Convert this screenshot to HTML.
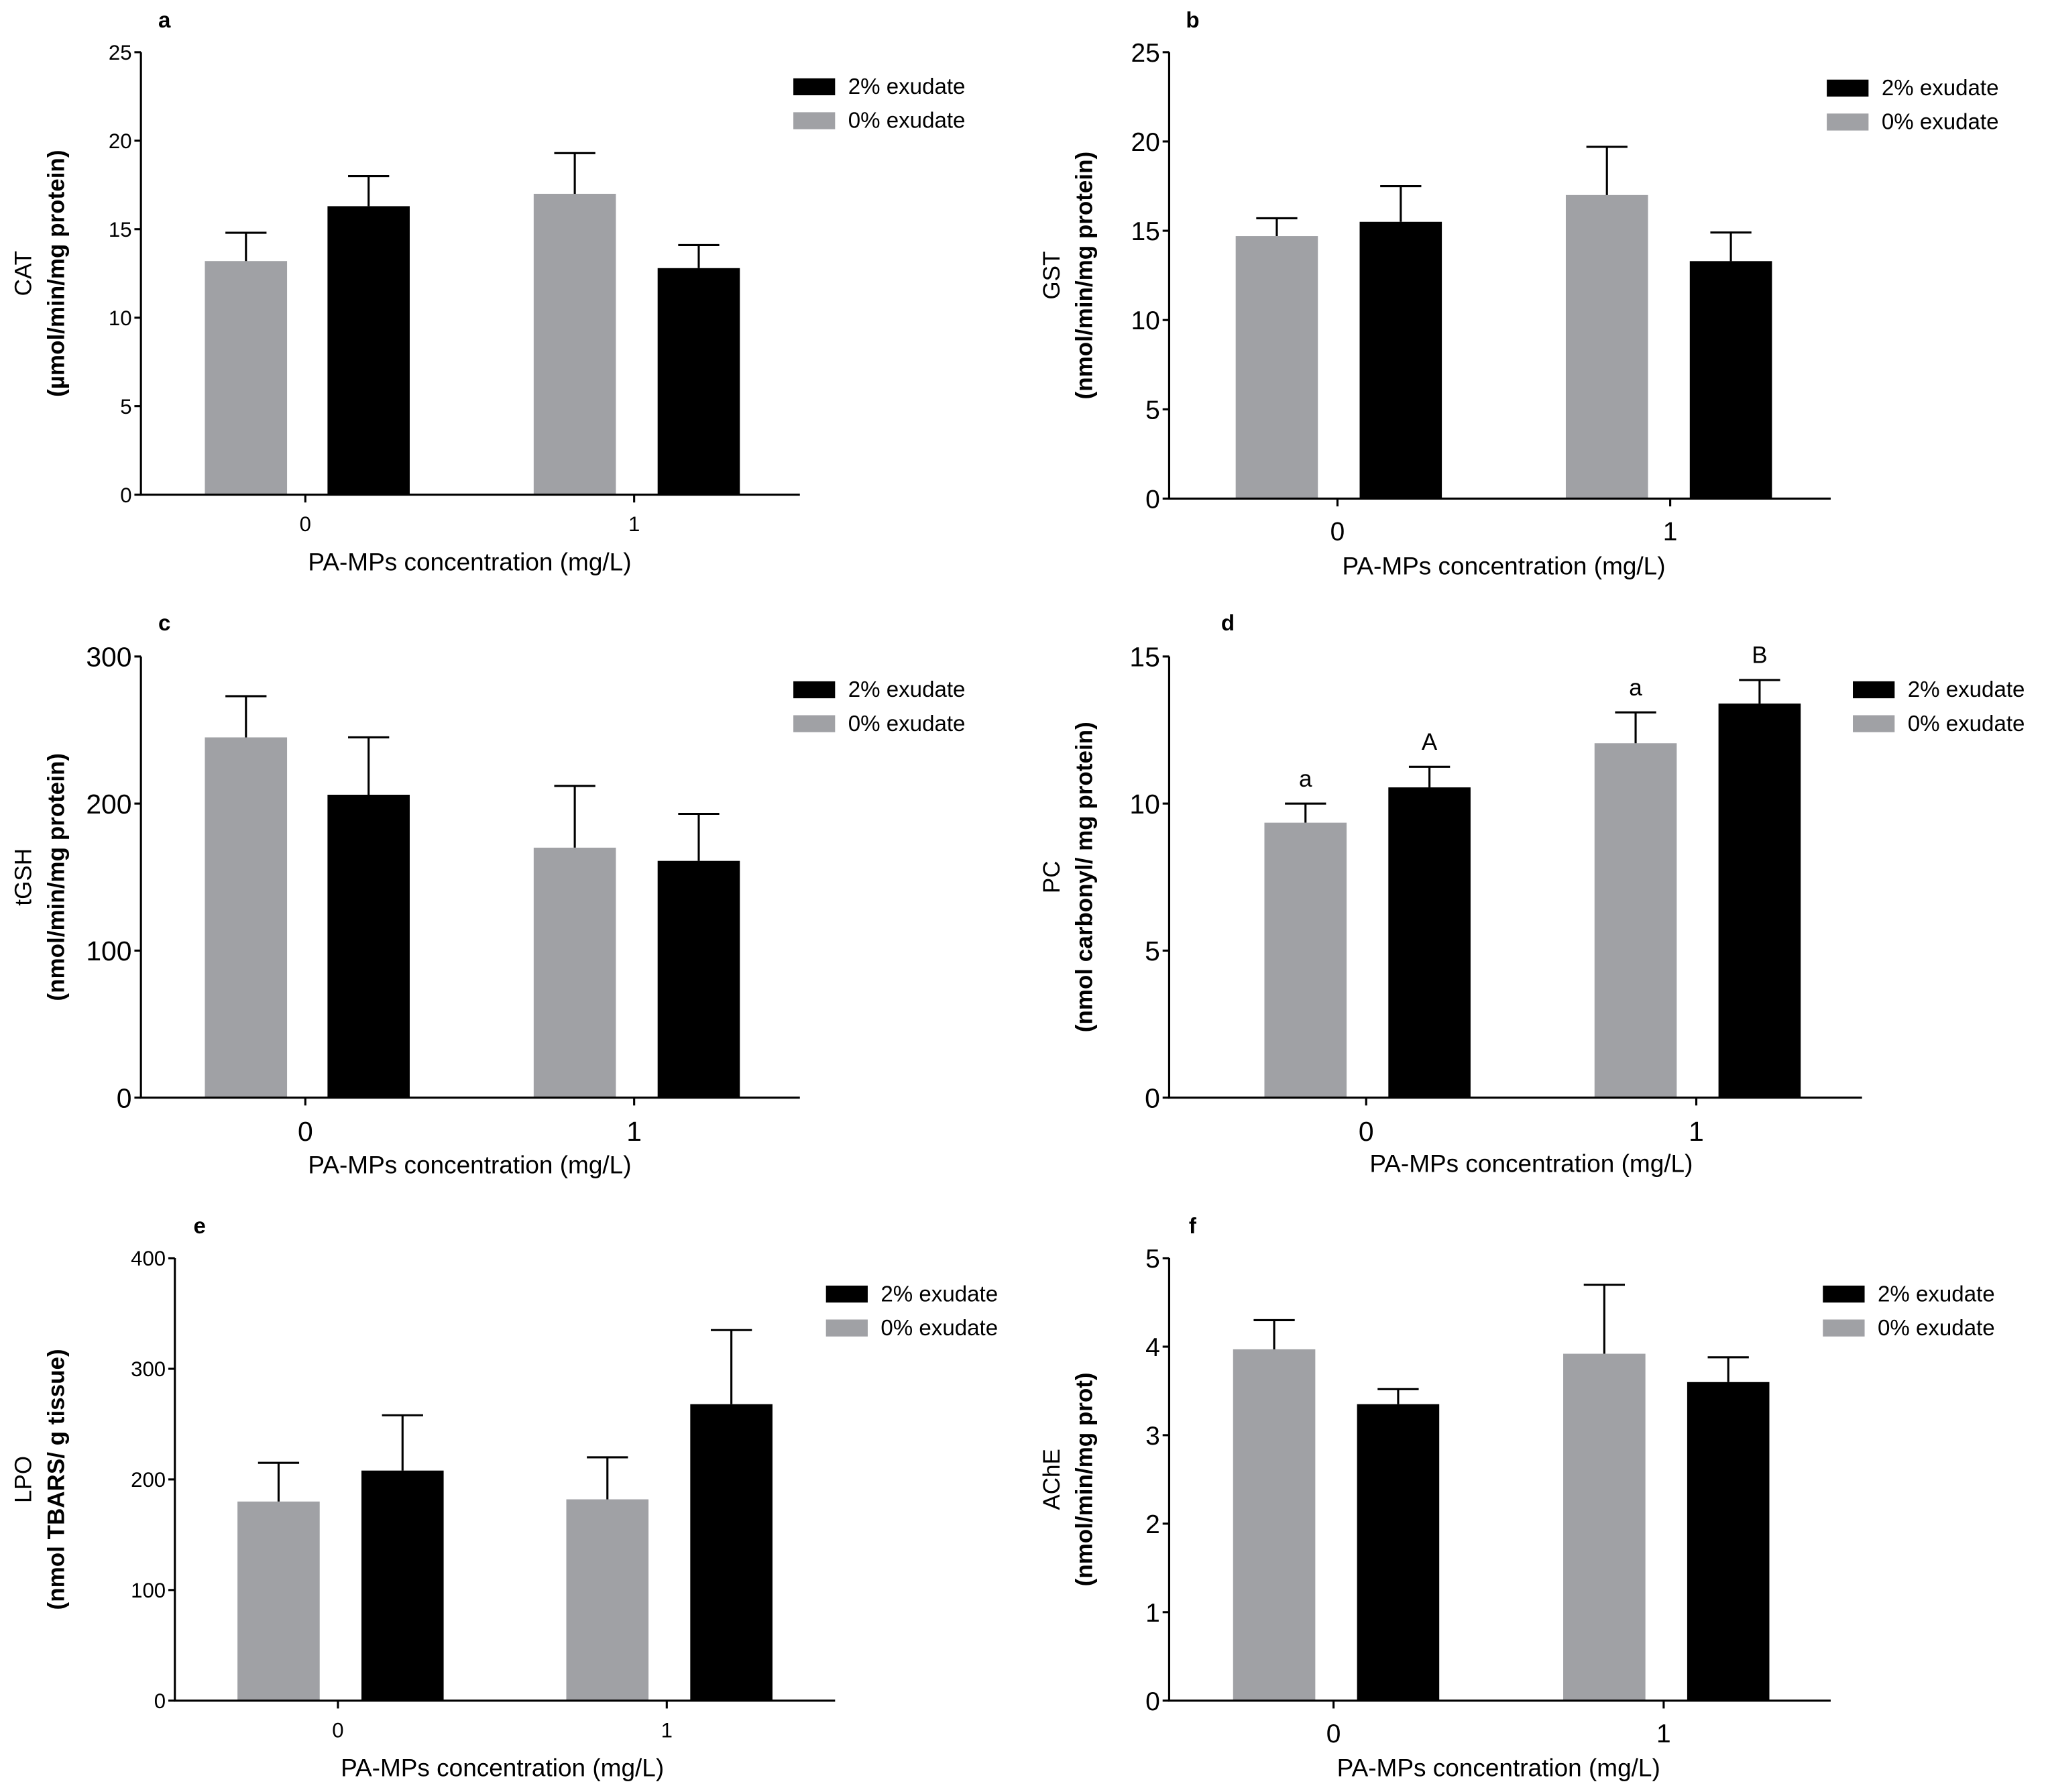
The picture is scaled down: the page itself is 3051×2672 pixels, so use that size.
<!DOCTYPE html>
<html><head><meta charset="utf-8">
<style>
html,body{margin:0;padding:0;background:#fff;}
svg{display:block;}
text{font-family:"Liberation Sans",sans-serif;fill:#000;}
</style></head>
<body>
<svg id="fig" width="3051" height="2672" viewBox="0 0 1568 1373" preserveAspectRatio="none" xmlns="http://www.w3.org/2000/svg"></svg>
<script>
// ---- data ----
const groups = ["0","1"];
const seriesNames = ["0% exudate","2% exudate"];
const aGray = [13.2, 17.0];   const aGrayErr = [1.6, 2.3];
const aBlack = [16.3, 12.8];  const aBlackErr = [1.7, 1.3];
const aTicks = [0,5,10,15,20,25];
const bGray = [14.7, 17.0];   const bGrayErr = [1.0, 2.7];
const bBlack = [15.5, 13.3];  const bBlackErr = [2.0, 1.6];
const bTicks = [0,5,10,15,20,25];
const cGray = [245, 170];     const cGrayErr = [28, 42];
const cBlack = [206, 161];    const cBlackErr = [39, 32];
const cTicks = [0,100,200,300];
const dGray = [9.35, 12.05];  const dGrayErr = [0.65, 1.05];
const dBlack = [10.55, 13.4]; const dBlackErr = [0.7, 0.8];
const dTicks = [0,5,10,15];
const dLettersGray = ["a","a"];
const dLettersBlack = ["A","B"];
const eGray = [180, 182];     const eGrayErr = [35, 38];
const eBlack = [208, 268];    const eBlackErr = [50, 67];
const eTicks = [0,100,200,300,400];
const fGray = [3.97, 3.92];   const fGrayErr = [0.33, 0.78];
const fBlack = [3.35, 3.6];   const fBlackErr = [0.17, 0.28];
const fTicks = [0,1,2,3,4,5];

const NS = "http://www.w3.org/2000/svg";
const fig = document.getElementById('fig');
function mk(tag, attrs, parent, txt){
  const e = document.createElementNS(NS, tag);
  for (const k in attrs) e.setAttribute(k, attrs[k]);
  if (txt !== undefined) e.textContent = txt;
  parent.appendChild(e);
  return e;
}
const GRAY = "#a0a1a5";

function panel(p){
  const g = mk('g', {}, fig);
  
  
  const ymax = p.ticks[p.ticks.length-1];
  const Y = v => p.y0 - (v / ymax) * (p.y0 - p.yTop);
  const pl = mk('text', {x:p.lx, y:p.ly, 'font-size':17, 'font-weight':'bold', 'text-anchor':'middle'}, g, p.id);
  
  
  const series = [[p.gray, p.grayErr, GRAY, p.grayX], [p.black, p.blackErr, "#000", p.blackX]];
  series.forEach((s, si) => {
    s[0].forEach((v, i) => {
      const x = s[3][i];
      const r = mk('rect', {x:x, y:Y(v), width:p.bw, height:p.y0 - Y(v), fill:s[2]}, g);
      
      
      const cx = x + p.bw/2, top = Y(v + s[1][i]);
      const eb = mk('path', {d:`M${cx},${Y(v)}V${top}M${cx-p.bw/4},${top}H${cx+p.bw/4}`, stroke:'#000', 'stroke-width':1.6, fill:'none'}, g);
      
      
      if (p.lettersGray) {
        const L = si ? p.lettersBlack : p.lettersGray;
        const t = mk('text', {x:cx, y:top - 13, 'font-size':18, 'text-anchor':'middle'}, g, L[i]);
        
        
      }
    });
  });
  const ax = mk('path', {d:`M${p.ax},${p.yTop}V${p.y0}H${p.axEnd}`, stroke:'#000', 'stroke-width':1.6, fill:'none'}, g);
  
  
  p.ticks.forEach(t => {
    const y = Y(t);
    const tk = mk('path', {d:`M${p.ax-5},${y}H${p.ax}`, stroke:'#000', 'stroke-width':1.6}, g);
    
    
    const tl = mk('text', {x:p.ax-7, y:y + p.fs*0.36, 'font-size':p.fs, 'text-anchor':'end'}, g, String(t));
    
    
  });
  groups.forEach((gn, i) => {
    const x = p.xt[i];
    const tk = mk('path', {d:`M${x},${p.y0}V${p.y0+6}`, stroke:'#000', 'stroke-width':1.6}, g);
    
    
    const tl = mk('text', {x:x, y:p.y0 + 12 + p.fs, 'font-size':p.fs, 'text-anchor':'middle'}, g, gn);
    
    
  });
  const xl = mk('text', {x:(p.xt[0]+p.xt[1])/2, y:p.xly, 'font-size':19, 'text-anchor':'middle'}, g, 'PA-MPs concentration (mg/L)');
  
  
  const yc = (p.y0 + p.yTop)/2;
  const y1 = mk('text', {x:0, y:0, 'font-size':18, 'text-anchor':'middle', transform:`translate(${p.ylx},${yc}) rotate(-90)`}, g, p.yl1);
  
  
  const y2 = mk('text', {x:0, y:0, 'font-size':18, 'font-weight':'bold', 'text-anchor':'middle', transform:`translate(${p.ylx+25},${yc}) rotate(-90)`}, g, p.yl2);
  
  
  [["#000", seriesNames[1]], [GRAY, seriesNames[0]]].forEach((L, i) => {
    const ly = p.legY + i*26;
    const r = mk('rect', {x:p.legX, y:ly, width:32, height:13, fill:L[0]}, g);
    
    
    const t = mk('text', {x:p.legX + 42, y:ly + 12, 'font-size':17}, g, L[1]);
    
    
  });
}

panel({id:'a', lx:126, ly:21, ax:108, axEnd:613, yTop:40, y0:379, ticks:aTicks, fs:16,
  gray:aGray, grayErr:aGrayErr, black:aBlack, blackErr:aBlackErr, grayX:[157,409], blackX:[251,504], bw:63,
  xt:[234,486], xly:437, ylx:24, yl1:'CAT', yl2:'(µmol/min/mg protein)', legX:608, legY:60});
panel({id:'b', lx:914, ly:21, ax:896, axEnd:1403, yTop:40, y0:382, ticks:bTicks, fs:20,
  gray:bGray, grayErr:bGrayErr, black:bBlack, blackErr:bBlackErr, grayX:[947,1200], blackX:[1042,1295], bw:63,
  xt:[1025,1280], xly:440, ylx:812, yl1:'GST', yl2:'(nmol/min/mg protein)', legX:1400, legY:61});
panel({id:'c', lx:126, ly:483, ax:108, axEnd:613, yTop:503, y0:841, ticks:cTicks, fs:21,
  gray:cGray, grayErr:cGrayErr, black:cBlack, blackErr:cBlackErr, grayX:[157,409], blackX:[251,504], bw:63,
  xt:[234,486], xly:899, ylx:24, yl1:'tGSH', yl2:'(nmol/min/mg protein)', legX:608, legY:522});
panel({id:'d', lx:941, ly:483, ax:896, axEnd:1427, yTop:503, y0:841, ticks:dTicks, fs:21,
  gray:dGray, grayErr:dGrayErr, black:dBlack, blackErr:dBlackErr, grayX:[969,1222], blackX:[1064,1317], bw:63,
  xt:[1047,1300], xly:898, ylx:812, yl1:'PC', yl2:'(nmol carbonyl/ mg protein)', legX:1420, legY:522,
  lettersGray:dLettersGray, lettersBlack:dLettersBlack});
panel({id:'e', lx:153, ly:945, ax:134, axEnd:640, yTop:964, y0:1303, ticks:eTicks, fs:16,
  gray:eGray, grayErr:eGrayErr, black:eBlack, blackErr:eBlackErr, grayX:[182,434], blackX:[277,529], bw:63,
  xt:[259,511], xly:1361, ylx:24, yl1:'LPO', yl2:'(nmol TBARS/ g tissue)', legX:633, legY:985});
panel({id:'f', lx:914, ly:945, ax:896, axEnd:1403, yTop:964, y0:1303, ticks:fTicks, fs:20,
  gray:fGray, grayErr:fGrayErr, black:fBlack, blackErr:fBlackErr, grayX:[945,1198], blackX:[1040,1293], bw:63,
  xt:[1022,1275], xly:1361, ylx:812, yl1:'AChE', yl2:'(nmol/min/mg prot)', legX:1397, legY:985});
</script>
</body></html>
